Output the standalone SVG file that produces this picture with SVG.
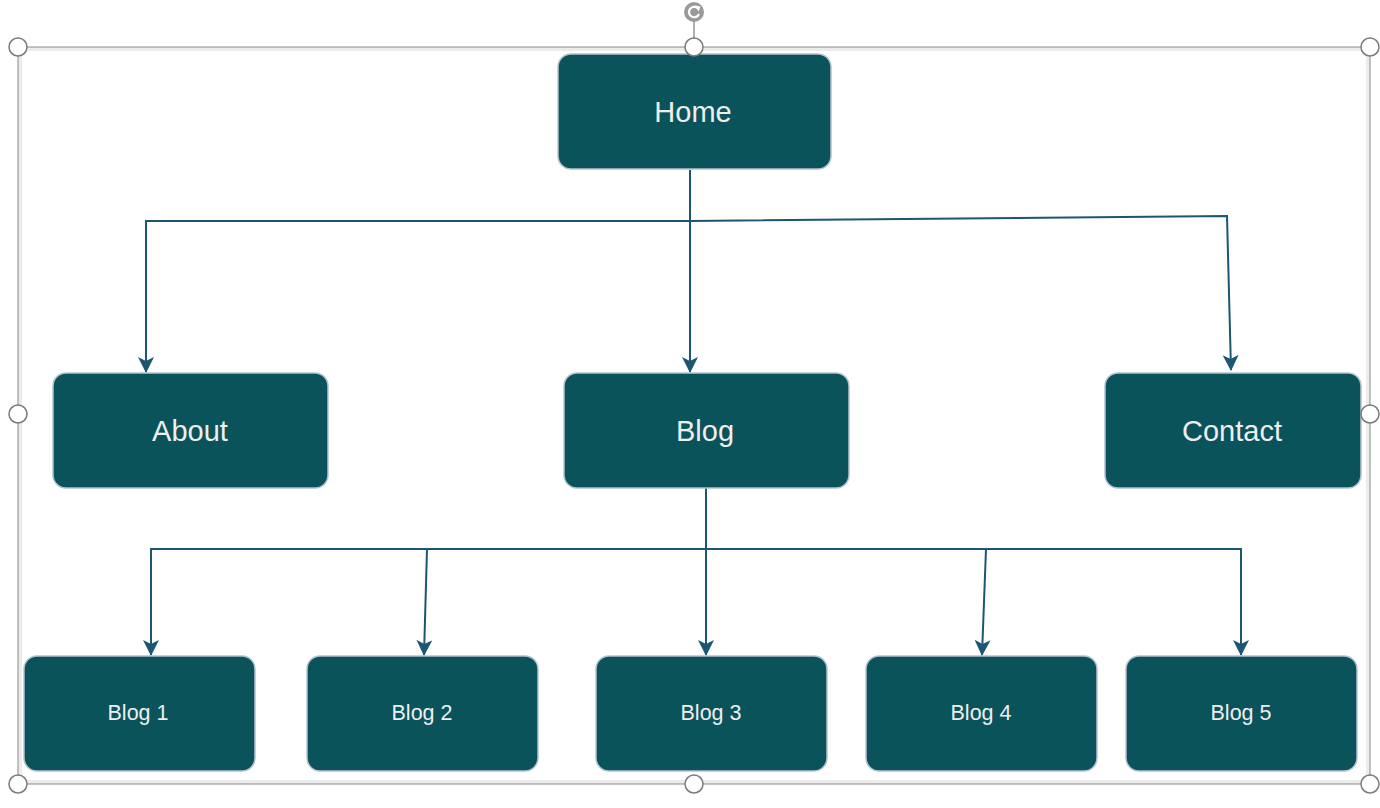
<svg xmlns="http://www.w3.org/2000/svg" width="1380" height="808" viewBox="0 0 1380 808">
  <style>
    .node rect { fill: #0b535a; stroke: #b4c2cf; stroke-width: 1.5; }
    .node text { fill: #eeeeee; font-family: "Liberation Sans", Arial, sans-serif; text-anchor: middle; }
    .big text { font-size: 29px; }
    .small text { font-size: 21.5px; }
    .edge { fill: none; stroke: #1b5672; stroke-width: 2; marker-end: url(#arrow); }
    .handle { fill: #ffffff; stroke: #7a7a7a; stroke-width: 1.5; }
  </style>
  <defs>
    <marker id="arrow" markerUnits="userSpaceOnUse" markerWidth="16" markerHeight="16" refX="15" refY="8" orient="auto">
      <path d="M0,0 L16,8 L0,16 L4,8 Z" fill="#1b5672"/>
    </marker>
  </defs>
  <rect width="1380" height="808" fill="#ffffff"/>

  <!-- selection frame -->
  <g id="frame">
    <rect x="20" y="49" width="1348" height="733" fill="none" stroke="#ececec" stroke-width="4"/>
    <rect x="18" y="47" width="1352" height="737" fill="none" stroke="#8a8a8a" stroke-width="1"/>
  </g>

  <!-- connectors -->
  <g id="connectors">
    <path class="edge" d="M690,170 L690,372"/>
    <path class="edge" d="M690,221 L146,221 L146,372"/>
    <path class="edge" d="M690,221 L1227,216 L1231,370"/>
    <path class="edge" d="M706,488 L706,655"/>
    <path class="edge" d="M706,549 L151,549 L151,655"/>
    <path class="edge" d="M427,549 L424,655"/>
    <path class="edge" d="M706,549 L1241,549 L1241,655"/>
    <path class="edge" d="M986,549 L982,655"/>
  </g>

  <!-- nodes -->
  <g id="home" class="node big">
    <rect x="558" y="54" width="273" height="115" rx="13"/>
    <text x="693" y="122">Home</text>
  </g>
  <g id="about" class="node big">
    <rect x="53" y="373" width="275" height="115" rx="13"/>
    <text x="190" y="441">About</text>
  </g>
  <g id="blog" class="node big">
    <rect x="564" y="373" width="285" height="115" rx="13"/>
    <text x="705" y="441">Blog</text>
  </g>
  <g id="contact" class="node big">
    <rect x="1105" y="373" width="256" height="115" rx="13"/>
    <text x="1232" y="441">Contact</text>
  </g>
  <g id="blog1" class="node small">
    <rect x="24" y="656" width="231" height="115" rx="13"/>
    <text x="138" y="720">Blog 1</text>
  </g>
  <g id="blog2" class="node small">
    <rect x="307" y="656" width="231" height="115" rx="13"/>
    <text x="422" y="720">Blog 2</text>
  </g>
  <g id="blog3" class="node small">
    <rect x="596" y="656" width="231" height="115" rx="13"/>
    <text x="711" y="720">Blog 3</text>
  </g>
  <g id="blog4" class="node small">
    <rect x="866" y="656" width="231" height="115" rx="13"/>
    <text x="981" y="720">Blog 4</text>
  </g>
  <g id="blog5" class="node small">
    <rect x="1126" y="656" width="231" height="115" rx="13"/>
    <text x="1241" y="720">Blog 5</text>
  </g>

  <!-- rotation and resize handles -->
  <g id="handles">
    <line x1="694" y1="20" x2="694" y2="38" stroke="#7a7a7a" stroke-width="1.2"/>
    <circle cx="694" cy="12" r="10" fill="#9a9a9a"/>
    <path d="M699,14 A5.2,5.2 0 1 1 697.5,8" fill="none" stroke="#ffffff" stroke-width="2.2"/>
    <path d="M695,5.5 L700.5,6.5 L698.5,11.5 Z" fill="#ffffff"/>
    <circle class="handle" cx="18" cy="47" r="9"/>
    <circle class="handle" cx="694" cy="47" r="9"/>
    <circle class="handle" cx="1370" cy="47" r="9"/>
    <circle class="handle" cx="18" cy="414" r="9"/>
    <circle class="handle" cx="1370" cy="414" r="9"/>
    <circle class="handle" cx="18" cy="784" r="9"/>
    <circle class="handle" cx="694" cy="784" r="9"/>
    <circle class="handle" cx="1370" cy="784" r="9"/>
  </g>
</svg>
